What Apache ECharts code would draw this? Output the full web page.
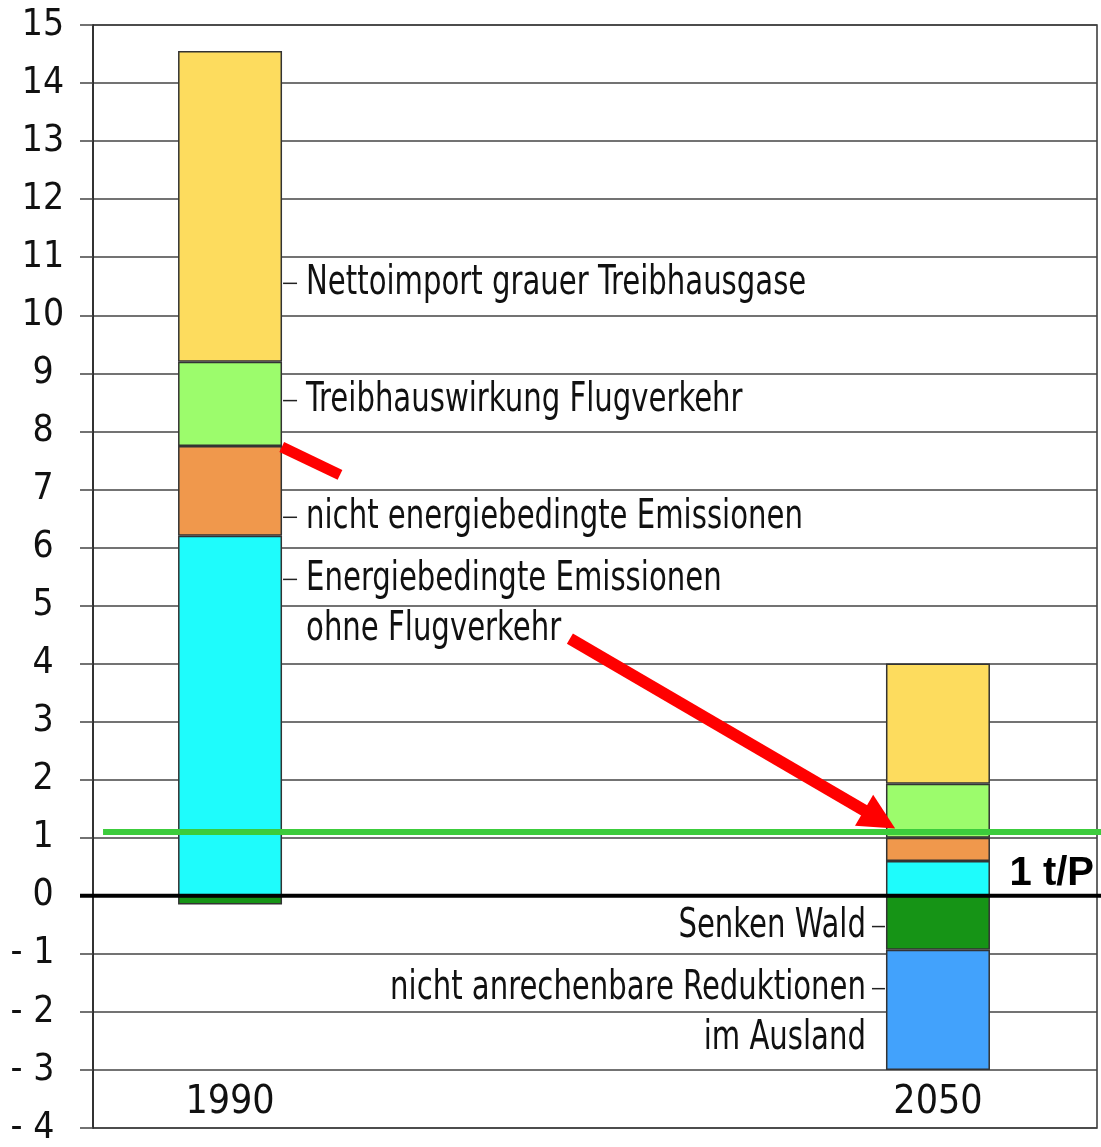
<!DOCTYPE html>
<html>
<head>
<meta charset="utf-8">
<script src="https://cdn.jsdelivr.net/npm/echarts@6/dist/echarts.min.js"></script>
<style>
  html, body { margin: 0; padding: 0; background: #fff; }
  #chart { width: 1101px; height: 1147px; }
</style>
</head>
<body>
<div id="chart"></div>
<script>
// Daten (t CO2-Äq. pro Person)
var categories = ['1990', '2050'];
var energie = [6.2, 0.6];
var nichtEnergie = [1.55, 0.4];
var flugverkehr = [1.45, 0.93];
var grauImport = [5.35, 2.07];
var senkenWald = [-0.15, -0.93];
var auslandReduktion = [null, -2.07];
var zielwert = 1.1;

// Layout
var barX = [13.65, 84.16];          // Position der Säulen auf der (versteckten) x-Skala 0..100
var FONT = "'Liberation Sans Narrow', 'DejaVu Sans Condensed', 'Liberation Sans', sans-serif";
var SCALE = 0.81;                   // schmale Schrift nachahmen

function stapel(name, values, color) {
    return {
        name: name,
        type: 'bar',
        stack: 'total',
        barWidth: 104,
        // Wert zuerst, damit der Stapel auf der y-Dimension gerechnet wird
        data: values.map(function (v, i) { return [v, barX[i]]; }),
        encode: { x: 1, y: 0 },
        itemStyle: { color: color, borderColor: '#333', borderWidth: 1.5 },
        emphasis: { disabled: true }
    };
}

var option = {
    animation: false,
    backgroundColor: '#fff',
    grid: {
        left: 93, right: 4, top: 25, bottom: 19,
        show: true, borderColor: '#333', borderWidth: 1.5, backgroundColor: 'transparent'
    },
    xAxis: {
        type: 'value',
        min: 0, max: 100,
        axisLine: { show: false },
        axisTick: { show: false },
        splitLine: { show: false },
        axisLabel: {
            inside: true,
            margin: 6,
            customValues: barX,
            formatter: function (v) { return categories[barX.indexOf(v)] || ''; },
            fontFamily: FONT, fontSize: 39, color: '#111'
        }
    },
    yAxis: {
        type: 'value',
        min: -4, max: 15, interval: 1,
        axisLine: { show: true, lineStyle: { color: '#222', width: 1.5 } },
        axisTick: { show: true, length: 13, lineStyle: { color: '#444', width: 1.5 } },
        splitLine: { show: true, lineStyle: { color: '#444', width: 1.5 } },
        axisLabel: {
            margin: 50,
            align: 'center',
            fontFamily: FONT, fontSize: 37, color: '#111',
            formatter: function (v) { return v < 0 ? '- ' + (-v) + '  ' : String(v); }
        }
    },
    series: [
        stapel('Energiebedingte Emissionen ohne Flugverkehr', energie, '#1EFCFC'),
        stapel('nicht energiebedingte Emissionen', nichtEnergie, '#F0984C'),
        stapel('Treibhauswirkung Flugverkehr', flugverkehr, '#9CFC6C'),
        stapel('Nettoimport grauer Treibhausgase', grauImport, '#FDDC5E'),
        stapel('Senken Wald', senkenWald, '#169416'),
        stapel('nicht anrechenbare Reduktionen im Ausland', auslandReduktion, '#42A2FC')
    ]
};

var chart = echarts.init(document.getElementById('chart'));
chart.setOption(option);

// Beschriftungen und Pfeile
var rechtsNotizen = [
    { text: 'Nettoimport grauer Treibhausgase', y: 10.55 },
    { text: 'Treibhauswirkung Flugverkehr', y: 8.53 },
    { text: 'nicht energiebedingte Emissionen', y: 6.52 },
    { text: 'Energiebedingte Emissionen\nohne Flugverkehr', y: 5.45 }
];
var linksNotizen = [
    { text: 'Senken Wald', y: -0.53 },
    { text: 'nicht anrechenbare Reduktionen\nim Ausland', y: -1.6 }
];
var kurzerPfeil = [[18.8, 7.73], [24.6, 7.25]];
var langerPfeil = [[47.5, 4.43], [79.9, 1.16]];

function px(x, y) { return chart.convertToPixel({ gridIndex: 0 }, [x, y]); }

var LH = 50;
var elements = [];
var halfBar = 52;

rechtsNotizen.forEach(function (n) {
    var p = px(barX[0], n.y);
    var x0 = p[0] + halfBar;
    elements.push({ type: 'line', z: 20, shape: { x1: x0 + 1, y1: p[1], x2: x0 + 15, y2: p[1] }, style: { stroke: '#222', lineWidth: 1.5 } });
    elements.push({ type: 'text', z: 20, x: x0 + 24, y: p[1] - LH / 2, scaleX: SCALE,
        style: { text: n.text, font: '40px ' + FONT, fill: '#111', lineHeight: LH, verticalAlign: 'top' } });
});
linksNotizen.forEach(function (n) {
    var p = px(barX[1], n.y);
    var x0 = p[0] - halfBar;
    elements.push({ type: 'line', z: 20, shape: { x1: x0 - 14, y1: p[1], x2: x0 - 1, y2: p[1] }, style: { stroke: '#222', lineWidth: 1.5 } });
    elements.push({ type: 'text', z: 20, x: x0 - 20, y: p[1] - LH / 2, scaleX: SCALE,
        style: { text: n.text, font: '40px ' + FONT, fill: '#111', lineHeight: LH, verticalAlign: 'top', align: 'right' } });
});

// Nulllinie und 1-t-Linie
var z0 = px(0, 0);
elements.push({ type: 'line', z: 30, shape: { x1: 80, y1: z0[1], x2: 1101, y2: z0[1] }, style: { stroke: '#000', lineWidth: 4 } });
var g0 = px(1, zielwert);
elements.push({ type: 'line', z: 30, shape: { x1: g0[0], y1: g0[1], x2: 1101, y2: g0[1] }, style: { stroke: '#3CCC3C', lineWidth: 6 } });
var t = px(100, 0.38);
elements.push({ type: 'text', z: 30, x: t[0] - 3, y: t[1],
    style: { text: '1 t/P', font: 'bold 40px Liberation Sans, Arial, sans-serif', fill: '#000', align: 'right', verticalAlign: 'middle' } });

// rote Pfeile
var a = px(kurzerPfeil[0][0], kurzerPfeil[0][1]), b = px(kurzerPfeil[1][0], kurzerPfeil[1][1]);
elements.push({ type: 'line', z: 40, shape: { x1: a[0], y1: a[1], x2: b[0], y2: b[1] }, style: { stroke: '#FF0000', lineWidth: 11 } });

var s = px(langerPfeil[0][0], langerPfeil[0][1]), e = px(langerPfeil[1][0], langerPfeil[1][1]);
var dx = e[0] - s[0], dy = e[1] - s[1], len = Math.sqrt(dx * dx + dy * dy);
var ux = dx / len, uy = dy / len, nx = -uy, ny = ux;
var headLen = 36, headW = 18;
var bx = e[0] - ux * headLen, by = e[1] - uy * headLen;
elements.push({ type: 'line', z: 40, shape: { x1: s[0], y1: s[1], x2: bx + ux * 4, y2: by + uy * 4 }, style: { stroke: '#FF0000', lineWidth: 12 } });
elements.push({ type: 'polygon', z: 40, shape: { points: [[e[0], e[1]], [bx + nx * headW, by + ny * headW], [bx - nx * headW, by - ny * headW]] }, style: { fill: '#FF0000' } });

chart.setOption({ graphic: { elements: elements } });
</script>
</body>
</html>
